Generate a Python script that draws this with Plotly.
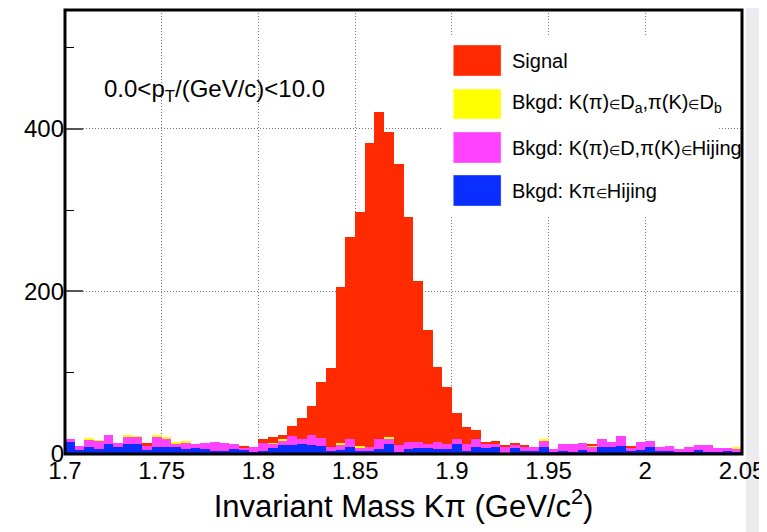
import plotly.graph_objects as go

# ---------------- data (70 bins of 0.005 GeV/c^2 from 1.70 to 2.05) ----------------
bin_lo = 1.70
bin_w = 0.005
n_bins = 70

# Bkgd: K pi in Hijing (bottom of stack)
bkg_hijing = [15, 5, 9, 6, 12, 8, 12, 12, 5, 8,
              8, 8, 6, 7, 6, 4, 4, 6, 5, 2,
              4, 7, 11, 11, 12, 11, 10, 4, 5, 9,
              4, 4, 6, 12, 2, 6, 7, 7, 6, 6,
              12, 4, 8, 7, 8, 0, 7, 4, 4, 8,
              3, 4, 2, 5, 2, 8, 8, 10, 4, 5,
              8, 4, 4, 2, 2, 5, 3, 2, 4, 3]
# Bkgd: K(pi) in D, pi(K) in Hijing
bkg_d_hijing = [3, 5, 9, 10, 11, 6, 10, 9, 6, 14,
                11, 5, 8, 5, 8, 11, 9, 6, 3, 6,
                9, 6, 5, 11, 7, 12, 10, 5, 7, 10,
                4, 4, 13, 7, 9, 9, 8, 5, 9, 6,
                6, 8, 11, 5, 4, 9, 5, 5, 4, 8,
                3, 8, 10, 8, 7, 11, 7, 12, 4, 10,
                8, 4, 6, 4, 6, 6, 8, 5, 3, 4]
# Bkgd: K(pi) in Da, pi(K) in Db
bkg_da_db = [0, 0, 1, 1, 0, 0, 1, 1, 0, 1,
             1, 1, 1, 0, 0, 0, 0, 0, 0, 0,
             0, 1, 2, 0, 0, 0, 0, 0, 2, 0,
             2, 0, 0, 2, 0, 0, 0, 0, 0, 0,
             0, 0, 0, 0, 0, 0, 0, 0, 0, 2,
             0, 0, 0, 0, 2, 0, 0, 0, 0, 0,
             0, 0, 0, 0, 0, 0, 0, 0, 0, 1]
# Signal
signal = [0, 0, 0, 0, 0, 0, 0, 0, 2, 0,
          0, 0, 0, 0, 0, 0, 0, 0, 1, 0,
          5, 7, 5, 12, 25, 36, 69, 97, 191, 248,
          288, 374, 402, 375, 346, 276, 198, 140, 92, 70,
          33, 21, 11, 3, 4, 1, 2, 2, 0, 0,
          0, 0, 0, 0, 1, 0, 0, 0, 2, 0,
          0, 0, 0, 0, 0, 0, 0, 0, 0, 0]

EL = '<span style="font-size:13px">∈</span>'
series_names = ["Bkgd: Kπ" + EL + "Hijing",
                "Bkgd: K(π)" + EL + "D,π(K)" + EL + "Hijing",
                "Bkgd: K(π)" + EL + "D<sub>a</sub>,π(K)" + EL + "D<sub>b</sub>",
                "Signal"]
series_values = [bkg_hijing, bkg_d_hijing, bkg_da_db, signal]
series_colors = ["#0a2eff", "#ff42ff", "#ffff00", "#ff2a00"]

x_tickvals = [1.7, 1.75, 1.8, 1.85, 1.9, 1.95, 2.0, 2.05]
x_ticktext = ["1.7", "1.75", "1.8", "1.85", "1.9", "1.95", "2", "2.05"]
y_tickvals = [0, 200, 400]
y_ticktext = ["0", "200", "400"]

centers = [bin_lo + bin_w * (k + 0.5) for k in range(n_bins)]

FONT = "Liberation Sans, Arial, Helvetica, sans-serif"

fig = go.Figure()
for name, vals, col in zip(series_names, series_values, series_colors):
    fig.add_trace(go.Bar(x=centers, y=vals, width=bin_w, name=name,
                         marker=dict(color=col, line=dict(width=0)),
                         showlegend=False, hoverinfo="x+y"))

# the page body has an 8px default margin: compensate so the plot lands where wanted
OFF = 8
W, H = 767 - OFF, 532 - OFF
# wanted (window) pixel geometry of the plot area
L_, R_, T_, B_ = 65, 745, 10, 454
ml, mt = L_ - OFF, T_ - OFF
mr, mb = 767 - R_, 532 - B_
pw, ph = R_ - L_, B_ - T_


def px(xw):
    return (xw - L_) / pw


def py(yw):
    return (B_ - yw) / ph


shapes = []
# light grey page strip at the right side
shapes.append(dict(type="rect", xref="paper", yref="paper", x0=px(749), x1=px(770),
                   y0=py(540), y1=py(0), fillcolor="#ebebf0", line=dict(width=0), layer="below"))
# legend white box (hides grid)
shapes.append(dict(type="rect", xref="paper", yref="paper", x0=px(443), x1=px(722),
                   y0=py(217), y1=py(37), fillcolor="white", line=dict(width=0), layer="above"))
# legend colour boxes
legend_rows = [(45, 76), (89, 119), (132, 163), (175, 206)]
legend_order = [3, 2, 1, 0]
annotations = []
for (y0, y1), idx in zip(legend_rows, legend_order):
    shapes.append(dict(type="rect", xref="paper", yref="paper", x0=px(455), x1=px(503),
                       y0=py(y1), y1=py(y0), fillcolor=series_colors[idx],
                       line=dict(width=0.6, color="rgba(255,255,255,0.6)"), layer="above"))
    annotations.append(dict(xref="paper", yref="paper", x=px(512), y=py((y0 + y1) / 2),
                            xanchor="left", yanchor="middle", showarrow=False,
                            text=series_names[idx], font=dict(family=FONT, size=20, color="black")))
# frame
shapes.append(dict(type="rect", xref="paper", yref="paper", x0=0, x1=1, y0=0, y1=1,
                   line=dict(color="black", width=3), layer="above"))

annotations.append(dict(xref="paper", yref="paper", x=px(102), y=py(90),
                        xanchor="left", yanchor="middle", showarrow=False,
                        text="0.0&lt;p<sub>T</sub>/(GeV/c)&lt;10.0",
                        font=dict(family=FONT, size=24, color="black")))

fig.update_layout(
    width=W, height=H,
    margin=dict(l=ml, r=mr, t=mt, b=mb, pad=0),
    paper_bgcolor="white", plot_bgcolor="white",
    barmode="stack", bargap=0,
    shapes=shapes, annotations=annotations,
    font=dict(family=FONT, color="black"),
    xaxis=dict(range=[1.7, 2.05], tickvals=x_tickvals, ticktext=x_ticktext,
               showgrid=True, gridcolor="#777", griddash="1px,2px", gridwidth=1,
               ticks="", showline=False, zeroline=False, ticklabeloverflow="allow",
               tickfont=dict(family=FONT, size=24, color="black"),
               title=dict(text="Invariant Mass Kπ (GeV/c<sup>2</sup>)",
                          font=dict(family=FONT, size=31, color="black"), standoff=6)),
    yaxis=dict(range=[0, 546], tickvals=y_tickvals, ticktext=y_ticktext,
               showgrid=True, gridcolor="#777", griddash="1px,2px", gridwidth=1,
               ticks="inside", ticklen=18, tickwidth=1.5, tickcolor="#555",
               minor=dict(dtick=100, ticks="inside", ticklen=9, tickwidth=1,
                          tickcolor="black", showgrid=False),
               showline=False, zeroline=False, ticklabeloverflow="allow",
               tickfont=dict(family=FONT, size=24, color="black")),
)

fig.write_html("out.html")
